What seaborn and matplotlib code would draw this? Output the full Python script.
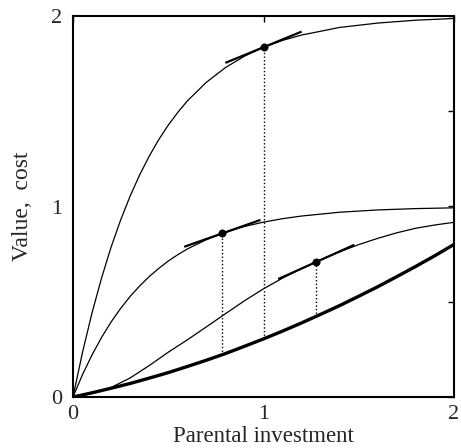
"""Parental investment: value curves against cost, with optimum points."""

import matplotlib

matplotlib.use("Agg")
import matplotlib.pyplot as plt
import numpy as np
import pandas as pd
import seaborn as sns

# value curves (two-offspring and one-offspring value)
X_VALUE = [0.0, 0.05, 0.1, 0.15, 0.2, 0.25, 0.3, 0.35, 0.4, 0.45, 0.5, 0.55, 0.6,
           0.7, 0.8, 0.9, 1.0, 1.1, 1.2, 1.4, 1.6, 1.8, 2.0]
VALUE_TOP = [0.0, 0.235, 0.442, 0.625, 0.787, 0.929, 1.055, 1.166, 1.264, 1.351, 1.427,
             1.494, 1.554, 1.652, 1.729, 1.789, 1.836, 1.872, 1.900, 1.940, 1.963, 1.978, 1.987]
VALUE_MID = [0.0, 0.118, 0.221, 0.313, 0.394, 0.465, 0.528, 0.583, 0.632, 0.675, 0.714,
             0.747, 0.777, 0.826, 0.865, 0.895, 0.918, 0.936, 0.950, 0.970, 0.982, 0.989, 0.993]

# sigmoid value curve and cost curve
X_LOW = [0.0, 0.1, 0.2, 0.3, 0.4, 0.5, 0.6, 0.7, 0.8, 0.9, 1.0,
         1.1, 1.2, 1.3, 1.4, 1.5, 1.6, 1.7, 1.8, 1.9, 2.0]
VALUE_LOW = [0.0, 0.022, 0.05, 0.10, 0.165, 0.235, 0.300, 0.368, 0.437, 0.505, 0.568,
             0.624, 0.675, 0.720, 0.762, 0.800, 0.833, 0.862, 0.886, 0.903, 0.917]
COST = [0.0, 0.022, 0.046, 0.071, 0.099, 0.128, 0.160, 0.193, 0.228, 0.266, 0.305,
        0.346, 0.389, 0.434, 0.480, 0.529, 0.579, 0.632, 0.686, 0.742, 0.801]

# optimum points: position, value, marginal slope, cost underneath
OPT_X = [1.0, 0.784, 1.277]
OPT_Y = [1.836, 0.859, 0.709]
OPT_SLOPE = [0.41, 0.352, 0.45]
OPT_COST = [0.305, 0.223, 0.42]

sns.set_theme(style="white")
plt.rcParams["font.family"] = ["Liberation Serif", "DejaVu Serif"]

fig = plt.figure(figsize=(4.61, 4.48), dpi=100)
ax = fig.add_axes([73 / 461, 51 / 448, 381 / 461, 381 / 448])

values = pd.DataFrame({"x": X_VALUE, "top": VALUE_TOP, "mid": VALUE_MID})
lows = pd.DataFrame({"x": X_LOW, "low": VALUE_LOW, "cost": COST})

sns.lineplot(data=values, x="x", y="top", color="black", lw=0.9, ax=ax)
sns.lineplot(data=values, x="x", y="mid", color="black", lw=0.9, ax=ax)
sns.lineplot(data=lows, x="x", y="low", color="black", lw=0.9, ax=ax)
sns.lineplot(data=lows, x="x", y="cost", color="black", lw=2.4, ax=ax)

half = 0.2
for x0, y0, s, c in zip(OPT_X, OPT_Y, OPT_SLOPE, OPT_COST):
    ax.plot([x0 - half, x0 + half], [y0 - s * half, y0 + s * half], color="black", lw=1.6,
            solid_capstyle="butt")
    ax.plot([x0, x0], [c, y0], color="black", lw=1.0, linestyle=(0, (1, 1.6)))

sns.scatterplot(x=OPT_X, y=OPT_Y, color="black", s=28, edgecolor="black", zorder=5, ax=ax)

ax.set_xlim(0, 2)
ax.set_ylim(0, 2)
ax.set_xticks([0, 1, 2])
ax.set_xticklabels(["0", "1", "2"])
ax.set_yticks([0, 1, 2])
ax.set_yticklabels(["0", "1", "2"])
ax.set_yticks([0.5, 1.5], minor=True)
ax.tick_params(which="both", direction="in", top=True, right=True, length=4, width=1,
               color="black", labelsize=16, pad=6)
ax.tick_params(axis="y", pad=8)
for spine in ax.spines.values():
    spine.set_linewidth(1.5)
    spine.set_color("black")

ax.set_xlabel("Parental investment", fontsize=16.5, labelpad=1)
ax.set_ylabel("Value,  cost", fontsize=17, labelpad=13)

fig.savefig("out.png", dpi=100)
